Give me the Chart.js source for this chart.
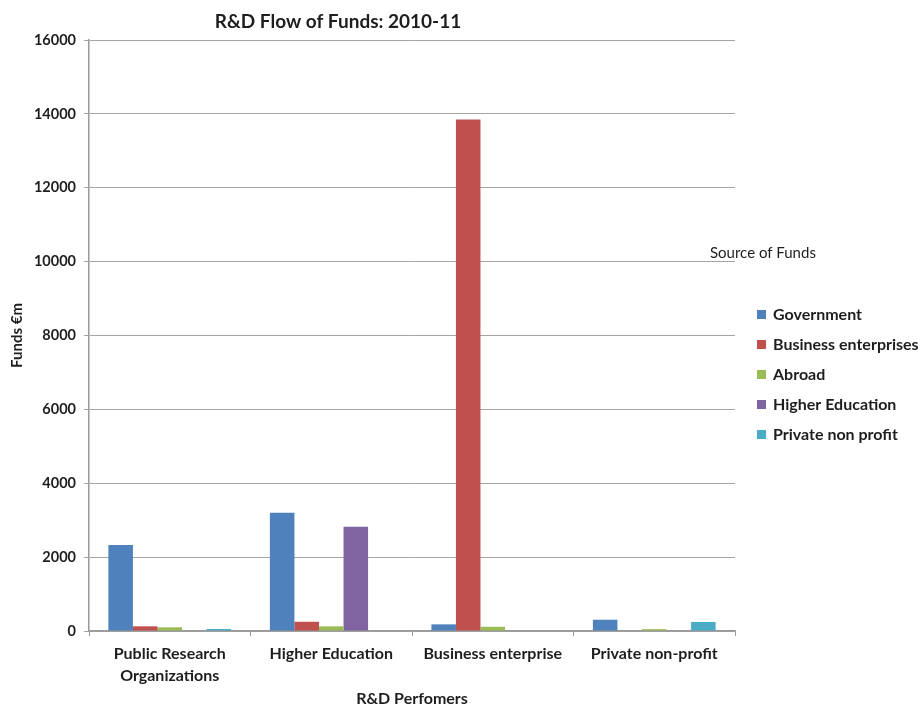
<!DOCTYPE html>
<html>
<head>
<meta charset="utf-8">
<script src="https://cdn.jsdelivr.net/npm/chart.js@4/dist/chart.umd.min.js"></script>
<style>
  html, body { margin: 0; padding: 0; background: #fff; }
  #wrap { width: 924px; height: 708px; }
</style>
</head>
<body>
<div id="wrap"><canvas id="c" width="924" height="708"></canvas></div>
<script>
// R&D performers (categories) and funding sources (series), values in € million
const performers = [['Public Research', 'Organizations'], 'Higher Education', 'Business enterprise', 'Private non-profit'];
const government = [2330, 3200, 180, 305];
const businessEnterprises = [127, 250, 13850, 0];
const abroad = [100, 127, 115, 50];
const higherEducation = [0, 2820, 0, 0];
const privateNonProfit = [55, 0, 0, 245];
const yTicks = [0, 2000, 4000, 6000, 8000, 10000, 12000, 14000, 16000];

const FONT = 'Lato, "Open Sans", sans-serif';
const TEXT = '#1e1e1e';

// Title and "Source of Funds" legend, drawn beside the plot
const sidePanel = {
  id: 'sidePanel',
  afterDraw(chart) {
    const ctx = chart.ctx;
    ctx.save();
    ctx.fillStyle = TEXT;
    ctx.textBaseline = 'middle';
    ctx.textAlign = 'center';
    ctx.font = 'bold 19px ' + FONT;
    ctx.fillText('R&D Flow of Funds: 2010-11', 338, 22);

    ctx.textAlign = 'left';
    ctx.font = '15px ' + FONT;
    ctx.fillText('Source of Funds', 710, 253);

    ctx.font = 'bold 16px ' + FONT;
    chart.data.datasets.forEach((ds, i) => {
      const y = 315 + i * 30;
      ctx.fillStyle = ds.backgroundColor;
      ctx.fillRect(757, y - 5, 9, 9);
      ctx.fillStyle = TEXT;
      ctx.fillText(ds.label, 773, y);
    });
    ctx.restore();
  }
};

new Chart(document.getElementById('c'), {
  type: 'bar',
  data: {
    labels: performers,
    datasets: [
      { label: 'Government', data: government, backgroundColor: '#4F81BD' },
      { label: 'Business enterprises', data: businessEnterprises, backgroundColor: '#C0504D' },
      { label: 'Abroad', data: abroad, backgroundColor: '#9BBB59' },
      { label: 'Higher Education', data: higherEducation, backgroundColor: '#8064A2' },
      { label: 'Private non profit', data: privateNonProfit, backgroundColor: '#4BACC6' }
    ]
  },
  options: {
    responsive: false,
    animation: false,
    layout: { padding: { top: 40, right: 189, left: 0, bottom: 0 } },
    datasets: { bar: { categoryPercentage: 0.76, barPercentage: 1.0, borderWidth: 0 } },
    plugins: {
      legend: { display: false },
      title: { display: false },
      tooltip: { enabled: false }
    },
    scales: {
      x: {
        offset: true,
        grid: { display: true, drawOnChartArea: false, drawTicks: true, tickLength: 5, color: '#9a9a9a', offset: true },
        border: { display: true, color: '#9a9a9a', width: 1.5 },
        ticks: { color: TEXT, font: { family: FONT, size: 16, weight: 'bold', lineHeight: 1.375 }, padding: 7, maxRotation: 0, autoSkip: false },
        title: { display: true, text: 'R&D Perfomers', color: TEXT, font: { family: FONT, size: 16, weight: 'bold' }, padding: { top: 4, bottom: 0 } },
        afterFit(scale) { scale.height = 77; }
      },
      y: {
        min: 0,
        max: 16000,
        afterBuildTicks(scale) { scale.ticks = yTicks.map(v => ({ value: v })); },
        grid: { color: '#a5a5a5', lineWidth: 1, drawTicks: true, tickLength: 5 },
        border: { display: true, color: '#9a9a9a', width: 1.5 },
        ticks: { color: TEXT, font: { family: FONT, size: 14.5, weight: 'bold' }, padding: 8, callback: v => String(v) },
        title: { display: true, text: 'Funds €m', color: TEXT, font: { family: FONT, size: 15, weight: 'bold' }, padding: { top: 8, bottom: 0 } },
        afterFit(scale) { scale.width = 89; }
      }
    }
  },
  plugins: [sidePanel]
});
</script>
</body>
</html>
